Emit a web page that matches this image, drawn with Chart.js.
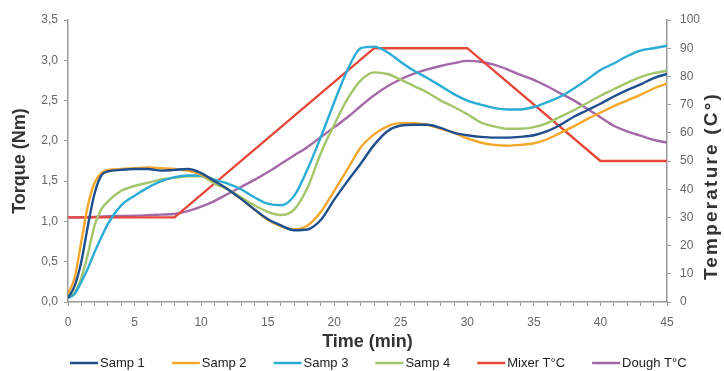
<!DOCTYPE html>
<html>
<head>
<meta charset="utf-8">
<script src="https://cdn.jsdelivr.net/npm/chart.js@4"></script>
<style>
  html, body { margin: 0; padding: 0; background: #fff; }
  #chart { display: block; }
</style>
</head>
<body>
<canvas id="chart" width="724" height="371"></canvas>
<script>
// ===== data =====
const timeMin = [0, 0.5, 1, 1.5, 2, 2.5, 3, 4, 5, 6, 7, 8, 9, 10, 11, 12, 13, 14, 15, 16, 17, 18, 19, 20,
  21, 22, 23, 24, 25, 26, 27, 28, 29, 30, 31, 32, 33, 34, 35, 36, 37, 38, 39, 40, 41, 42, 43, 44, 45];

const samp1 = [0.05, 0.2, 0.5, 0.95, 1.35, 1.57, 1.62, 1.64, 1.65, 1.65, 1.63, 1.64, 1.65, 1.6, 1.5, 1.4, 1.28, 1.15, 1.03, 0.95, 0.89, 0.9, 1.02, 1.27,
  1.5, 1.72, 1.95, 2.12, 2.19, 2.2, 2.2, 2.16, 2.1, 2.07, 2.05, 2.04, 2.04, 2.05, 2.07, 2.12, 2.2, 2.3, 2.38, 2.46, 2.55, 2.63, 2.7, 2.78, 2.83];
const samp2 = [0.1, 0.3, 0.75, 1.2, 1.48, 1.6, 1.64, 1.65, 1.66, 1.67, 1.66, 1.65, 1.63, 1.58, 1.5, 1.4, 1.28, 1.15, 1.02, 0.94, 0.9, 0.95, 1.12, 1.38,
  1.65, 1.92, 2.08, 2.18, 2.22, 2.22, 2.2, 2.15, 2.1, 2.03, 1.98, 1.95, 1.94, 1.95, 1.97, 2.02, 2.1, 2.18, 2.27, 2.35, 2.43, 2.5, 2.57, 2.65, 2.71];
const samp3 = [0.05, 0.1, 0.25, 0.42, 0.62, 0.8, 0.97, 1.2, 1.32, 1.42, 1.5, 1.55, 1.57, 1.57, 1.52, 1.47, 1.4, 1.3, 1.22, 1.2, 1.32, 1.65, 2.05, 2.48,
  2.88, 3.15, 3.17, 3.1, 2.98, 2.87, 2.78, 2.68, 2.58, 2.5, 2.45, 2.41, 2.39, 2.39, 2.42, 2.48, 2.55, 2.65, 2.76, 2.88, 2.96, 3.05, 3.12, 3.15, 3.18];
const samp4 = [0.05, 0.12, 0.3, 0.6, 0.95, 1.15, 1.25, 1.38, 1.44, 1.48, 1.52, 1.54, 1.56, 1.56, 1.47, 1.4, 1.3, 1.2, 1.12, 1.08, 1.15, 1.42, 1.85, 2.2,
  2.52, 2.75, 2.85, 2.83, 2.76, 2.68, 2.6, 2.5, 2.42, 2.33, 2.23, 2.18, 2.15, 2.15, 2.17, 2.22, 2.3, 2.38, 2.47, 2.56, 2.64, 2.72, 2.79, 2.84, 2.87];
const doughTemp = [30, 30, 30, 30.1, 30.2, 30.3, 30.4, 30.5, 30.6, 30.8, 31, 31.2, 32.2, 33.8, 35.8, 38.3, 40.8, 43.3, 46, 49, 52, 55, 58.5, 62,
  65.5, 69.5, 73.3, 76.5, 79, 81, 82.5, 83.7, 84.7, 85.5, 85.2, 84.2, 82.5, 80.5, 78.8, 76.5, 74, 71.5, 68.5, 65.5, 62.5, 60.5, 59, 57.5, 56.5];

// mixer set point is a straight-line profile
const mixerTime = [0, 8, 23, 30, 40, 45];
const mixerTemp = [30, 30, 90, 90, 50, 50];

const seriesNames = ['Samp 1', 'Samp 2', 'Samp 3', 'Samp 4', 'Mixer T°C', 'Dough T°C'];
const seriesColors = ['#1f4f8e', '#f4a72a', '#2aacd5', '#a3c56b', '#e5483b', '#a468a8'];

const FONT = '"Liberation Sans", Arial, sans-serif';

function toPoints(xs, ys) {
  return xs.map((x, i) => ({ x: x, y: ys[i] }));
}

function lineSet(idx, pts, axis, smooth) {
  return {
    label: seriesNames[idx],
    data: pts,
    yAxisID: axis,
    borderColor: seriesColors[idx],
    backgroundColor: seriesColors[idx],
    borderWidth: 2.4,
    pointRadius: 0,
    fill: false,
    tension: smooth ? 0.4 : 0,
    cubicInterpolationMode: smooth ? 'monotone' : 'default'
  };
}

// right title (reads bottom-to-top) + legend drawn by hand
const extrasPlugin = {
  id: 'extras',
  afterDraw(chart) {
    const ctx = chart.ctx;
    ctx.save();
    // right axis title
    ctx.translate(712, 186);
    ctx.rotate(-Math.PI / 2);
    ctx.font = 'bold 19px ' + FONT;
    ctx.fillStyle = '#333';
    ctx.textAlign = 'center';
    ctx.textBaseline = 'middle';
    if ('letterSpacing' in ctx) ctx.letterSpacing = '2.2px';
    ctx.fillText('Temperature (C°)', 0, 0);
    ctx.restore();

    // legend
    ctx.save();
    ctx.font = '13px ' + FONT;
    ctx.textBaseline = 'middle';
    ctx.textAlign = 'left';
    let x = 70;
    const y = 363;
    chart.data.datasets.forEach(ds => {
      ctx.strokeStyle = ds.borderColor;
      ctx.lineWidth = 2.5;
      ctx.beginPath();
      ctx.moveTo(x, y);
      ctx.lineTo(x + 28, y);
      ctx.stroke();
      ctx.fillStyle = '#222';
      ctx.fillText(ds.label, x + 30, y);
      x += 30 + ctx.measureText(ds.label).width + 27;
    });
    ctx.restore();
  }
};

const tickFont = { family: FONT, size: 12 };
const titleFont = { family: FONT, size: 18, weight: 'bold' };
const axisGray = '#9a9a9a';

new Chart(document.getElementById('chart'), {
  type: 'line',
  data: {
    datasets: [
      lineSet(0, toPoints(timeMin, samp1), 'y', true),
      lineSet(1, toPoints(timeMin, samp2), 'y', true),
      lineSet(2, toPoints(timeMin, samp3), 'y', true),
      lineSet(3, toPoints(timeMin, samp4), 'y', true),
      lineSet(4, toPoints(mixerTime, mixerTemp), 'y2', false),
      lineSet(5, toPoints(timeMin, doughTemp), 'y2', true)
    ]
  },
  options: {
    responsive: false,
    animation: false,
    devicePixelRatio: 1,
    layout: { padding: { top: 20, left: 0, right: 0, bottom: 0 } },
    plugins: { legend: { display: false }, tooltip: { enabled: false } },
    scales: {
      x: {
        type: 'linear',
        position: 'bottom',
        min: 0,
        max: 45,
        afterFit: s => { s.height = 69; },
        ticks: {
          stepSize: 1,
          autoSkip: false,
          maxRotation: 0,
          padding: 9,
          color: '#666',
          font: tickFont,
          callback: v => (v % 5 === 0 ? String(v) : '')
        },
        grid: { drawOnChartArea: false, tickLength: 4, color: axisGray },
        border: { color: axisGray, width: 1.5 },
        title: { display: true, text: 'Time (min)', color: '#333', font: titleFont, padding: { top: 0, bottom: 18 } }
      },
      y: {
        position: 'left',
        min: 0,
        max: 3.5,
        afterFit: s => { s.width = 68; },
        ticks: {
          stepSize: 0.5,
          padding: 6,
          color: '#666',
          font: tickFont,
          callback: v => v.toFixed(1).replace('.', ',')
        },
        grid: { drawOnChartArea: false, tickLength: 4, color: axisGray },
        border: { color: axisGray, width: 1.5 },
        title: { display: true, text: 'Torque (Nm)', color: '#333', font: titleFont, padding: { top: 9, bottom: 0 } }
      },
      y2: {
        position: 'right',
        min: 0,
        max: 100,
        afterFit: s => { s.width = 57; },
        ticks: { stepSize: 10, padding: 9, color: '#666', font: tickFont },
        grid: { drawOnChartArea: false, tickLength: 4, color: axisGray },
        border: { color: axisGray, width: 1.5 }
      }
    }
  },
  plugins: [extrasPlugin]
});
</script>
</body>
</html>
